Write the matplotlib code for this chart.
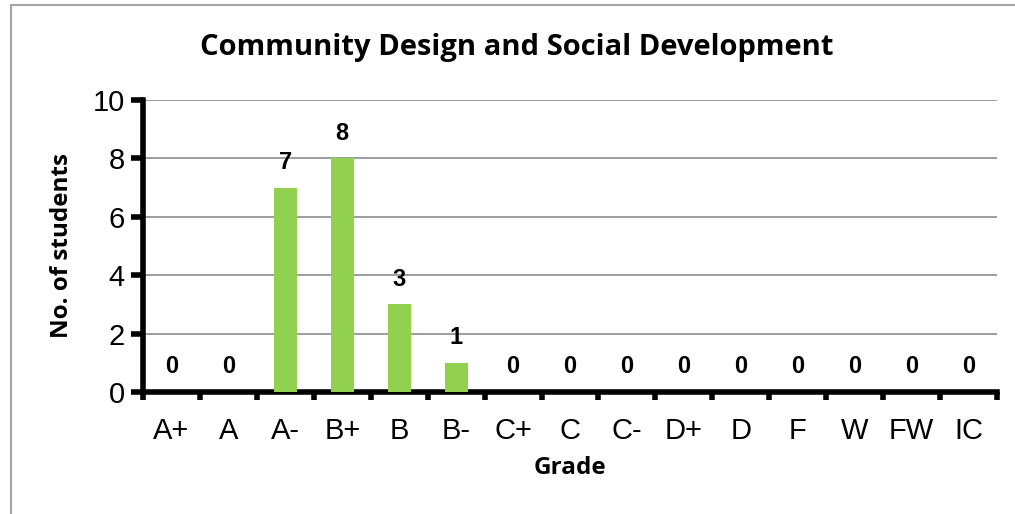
import matplotlib.pyplot as plt
from matplotlib.patches import Rectangle

grades = ["A+", "A", "A-", "B+", "B", "B-", "C+", "C", "C-", "D+", "D", "F", "W", "FW", "IC"]
students = [0, 0, 7, 8, 3, 1, 0, 0, 0, 0, 0, 0, 0, 0, 0]

fig = plt.figure(figsize=(10.15, 5.14), dpi=100)
ax = fig.add_axes([143 / 1015, 1 - 392 / 514, 854 / 1015, 292 / 514])

# outer frame of the chart area
fig.patches.append(Rectangle((11 / 1015, -0.1), 1.2, 1 - 5 / 514 + 0.1,
                             transform=fig.transFigure, fill=False,
                             edgecolor="#a6a6a6", linewidth=1.5))

x = list(range(len(grades)))
ax.bar(x, students, width=0.4, color="#92d050", zorder=3)

for xi, v in zip(x, students):
    ax.text(xi, v + 0.86, str(v), ha="center", va="center", fontsize=17,
            fontweight="bold", family="Liberation Sans")

ax.set_xlim(-0.5, 14.5)
ax.set_ylim(0, 10)
ax.set_yticks(range(0, 11, 2))
ax.set_xticks(x)
ax.set_xticklabels(grades)
ax.set_xticks([i - 0.5 for i in range(len(grades) + 1)], minor=True)
ax.tick_params(axis="x", which="major", length=0, pad=18, labelsize=21)
ax.tick_params(axis="x", which="minor", length=6, width=4, direction="out")
ax.tick_params(axis="y", length=9, width=4, pad=4, labelsize=21)
for lab in ax.get_xticklabels() + ax.get_yticklabels():
    lab.set_family("Liberation Sans")

ax.grid(axis="y", color="#8c8c8c", linewidth=1.2, zorder=0)
ax.set_axisbelow(True)
for s in ["top", "right"]:
    ax.spines[s].set_visible(False)
ax.spines["left"].set_linewidth(4)
ax.spines["bottom"].set_linewidth(4)

fig.text(517 / 1015, 1 - 47 / 514, "Community Design and Social Development",
         ha="center", va="center", fontsize=21, fontweight="bold", family="Open Sans")
fig.text(570 / 1015, 1 - 468 / 514, "Grade", ha="center", va="center",
         fontsize=17.5, fontweight="bold", family="Open Sans")
fig.text(62 / 1015, 1 - 245 / 514, "No. of students", ha="center", va="center",
         rotation=90, fontsize=17.5, fontweight="bold", family="Open Sans")

fig.savefig("out.png", dpi=100)
